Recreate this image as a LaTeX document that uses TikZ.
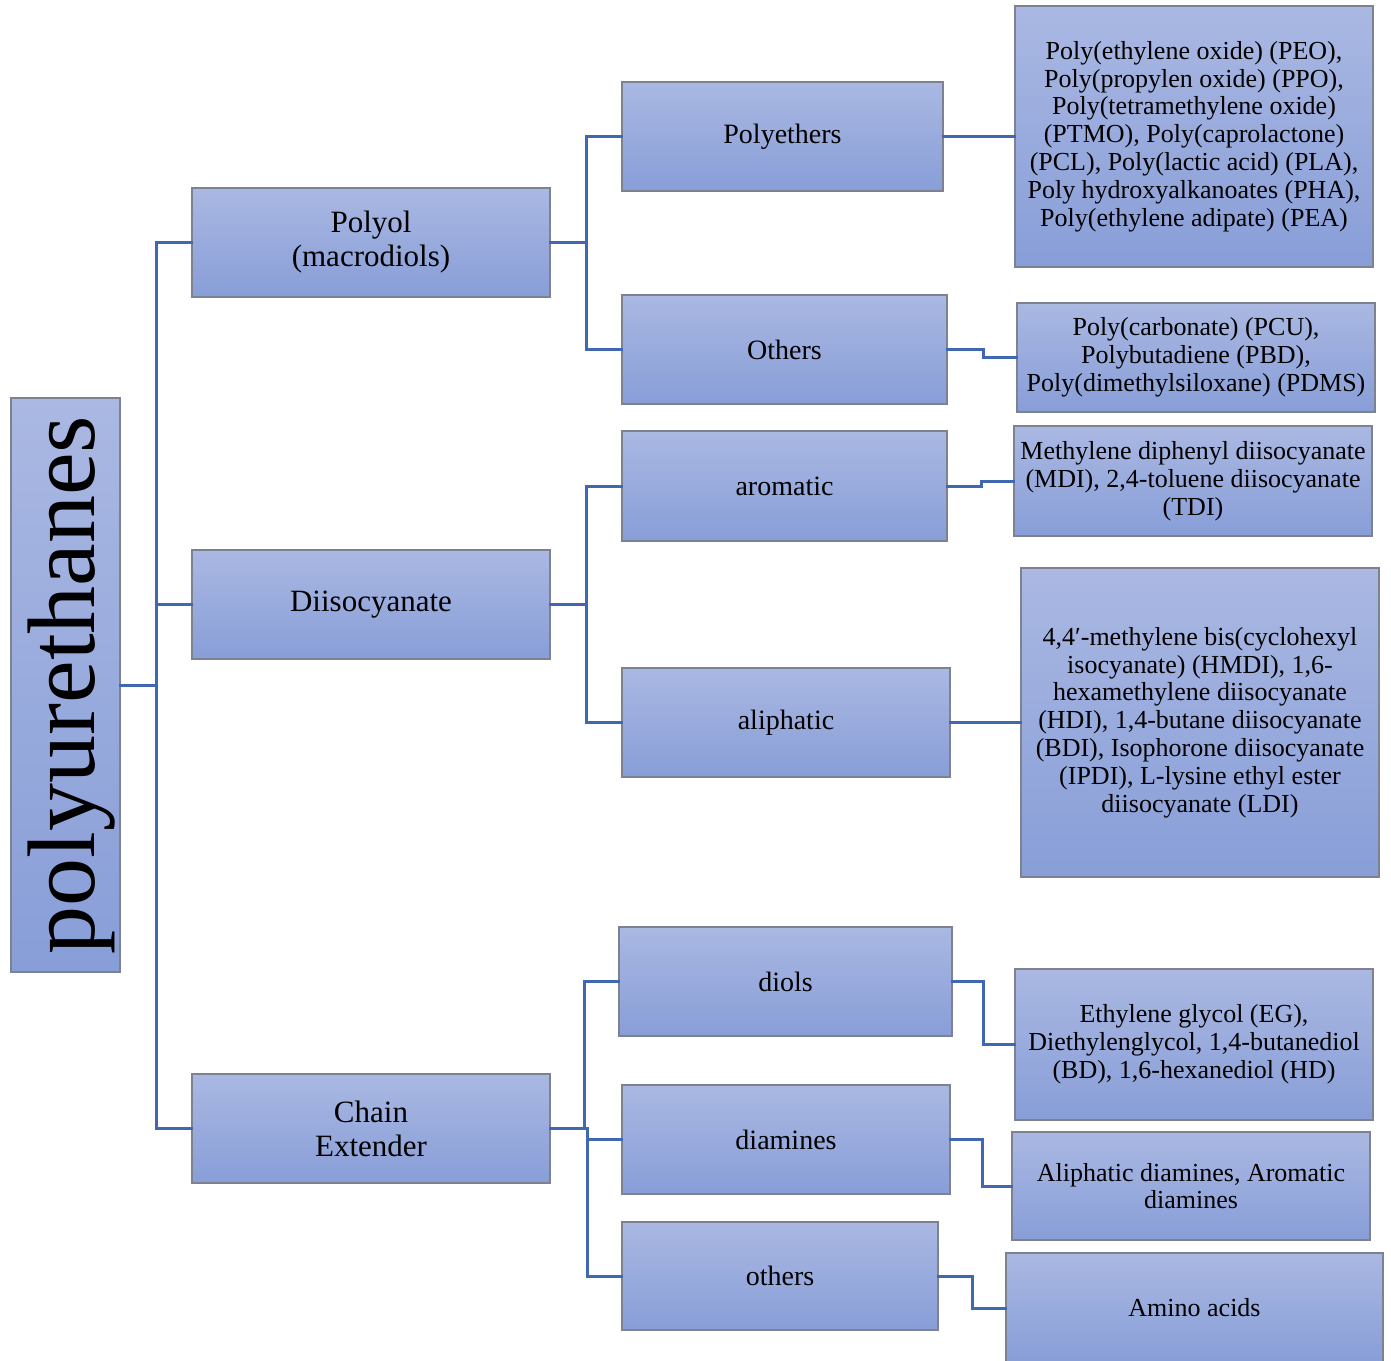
\documentclass[tikz,border=0pt]{standalone}
\usepackage{fontspec}
\setmainfont{Liberation Serif}
\usepackage{xcolor}
\definecolor{boxtop}{HTML}{AAB8E2}
\definecolor{boxbot}{HTML}{889ED8}
\definecolor{boxline}{HTML}{7C8290}
\definecolor{linkblue}{HTML}{4068B2}

\begin{document}
\begin{tikzpicture}[x=1pt,y=-1pt,line cap=rect,
  box/.style={draw=boxline,line width=1.5pt,top color=boxtop,bottom color=boxbot,
    inner sep=0pt,align=center,minimum height=109pt},
  lvlone/.style={box,minimum width=358pt,font=\fontsize{31}{34}\selectfont},
  lvltwo/.style={box,font=\fontsize{28}{32}\selectfont},
  leaf/.style={box,minimum width=358pt,font=\fontsize{26}{27.8}\selectfont},
  link/.style={linkblue,line width=3pt}]
\useasboundingbox (0,0) rectangle (1391,1360);
% root
\node[box,minimum width=109pt,minimum height=574pt] (root) at (65.5,685)
  {\fontsize{96}{100}\selectfont\rotatebox{90}{\rule{0pt}{78pt}polyurethanes}};
% first level
\node[lvlone] (polyol) at (371,242.5) {Polyol\\(macrodiols)};
\node[lvlone] (diiso) at (371,604.5) {Diisocyanate};
\node[lvlone] (chain) at (371,1128.5) {Chain\\Extender};
% second level
\node[lvltwo,minimum width=321pt] (polyethers) at (782.5,136.5) {Polyethers};
\node[lvltwo,minimum width=325pt] (othersA) at (784.5,349.5) {Others};
\node[lvltwo,minimum width=325pt,minimum height=110pt] (aromatic) at (784.5,486) {aromatic};
\node[lvltwo,minimum width=328pt] (aliphatic) at (786,722.5) {aliphatic};
\node[lvltwo,minimum width=333pt] (diols) at (785.5,981.5) {diols};
\node[lvltwo,minimum width=328pt] (diamines) at (786,1139.5) {diamines};
\node[lvltwo,minimum width=316pt,minimum height=108pt] (othersB) at (780,1276) {others};
% leaves
\node[leaf,minimum height=261pt] (peo) at (1194,136.5) {Poly(ethylene oxide) (PEO),\\Poly(propylen oxide) (PPO),\\Poly(tetramethylene oxide)\\(PTMO), Poly(caprolactone)\\(PCL), Poly(lactic acid) (PLA),\\Poly hydroxyalkanoates (PHA),\\Poly(ethylene adipate) (PEA)};
\node[leaf] (pcu) at (1196,357.5) {Poly(carbonate) (PCU),\\Polybutadiene (PBD),\\Poly(dimethylsiloxane) (PDMS)};
\node[leaf,minimum height=110pt] (mdi) at (1193,481) {Methylene diphenyl diisocyanate\\(MDI), 2,4-toluene diisocyanate\\(TDI)};
\node[leaf,minimum height=309pt] (hmdi) at (1200,722.5) {4,4′-methylene bis(cyclohexyl\\isocyanate) (HMDI), 1,6-\\hexamethylene diisocyanate\\(HDI), 1,4-butane diisocyanate\\(BDI), Isophorone diisocyanate\\(IPDI), L-lysine ethyl ester\\diisocyanate (LDI)};
\node[leaf,minimum height=151pt] (eg) at (1194,1044.5) {Ethylene glycol (EG),\\Diethylenglycol, 1,4-butanediol\\(BD), 1,6-hexanediol (HD)};
\node[leaf,minimum height=108pt] (amines) at (1191,1186) {Aliphatic diamines, Aromatic\\diamines};
\node[leaf,minimum width=377pt,minimum height=110pt] (amino) at (1194.5,1308) {Amino acids};
% connectors
\draw[link] (root.east) -- ++(36,0) |- (polyol.west);
\draw[link] (root.east) -- ++(36,0) |- (diiso.west);
\draw[link] (root.east) -- ++(36,0) |- (chain.west);
\draw[link] (polyol.east) -- ++(36,0) |- (polyethers.west);
\draw[link] (polyol.east) -- ++(36,0) |- (othersA.west);
\draw[link] (diiso.east) -- ++(36,0) |- (aromatic.west);
\draw[link] (diiso.east) -- ++(36,0) |- (aliphatic.west);
\draw[link] (chain.east) -- ++(34,0) |- (diols.west);
\draw[link] (chain.east) -- ++(37,0) |- (diamines.west);
\draw[link] (chain.east) -- ++(37,0) |- (othersB.west);
\draw[link] (polyethers.east) -- (peo.west);
\draw[link] (othersA.east) -- ++(36,0) |- (pcu.west);
\draw[link] (aromatic.east) -- ++(34,0) |- (mdi.west);
\draw[link] (aliphatic.east) -- (hmdi.west);
\draw[link] (diols.east) -- ++(31,0) |- (eg.west);
\draw[link] (diamines.east) -- ++(32,0) |- (amines.west);
\draw[link] (othersB.east) -- ++(34,0) |- (amino.west);
\end{tikzpicture}
\end{document}
